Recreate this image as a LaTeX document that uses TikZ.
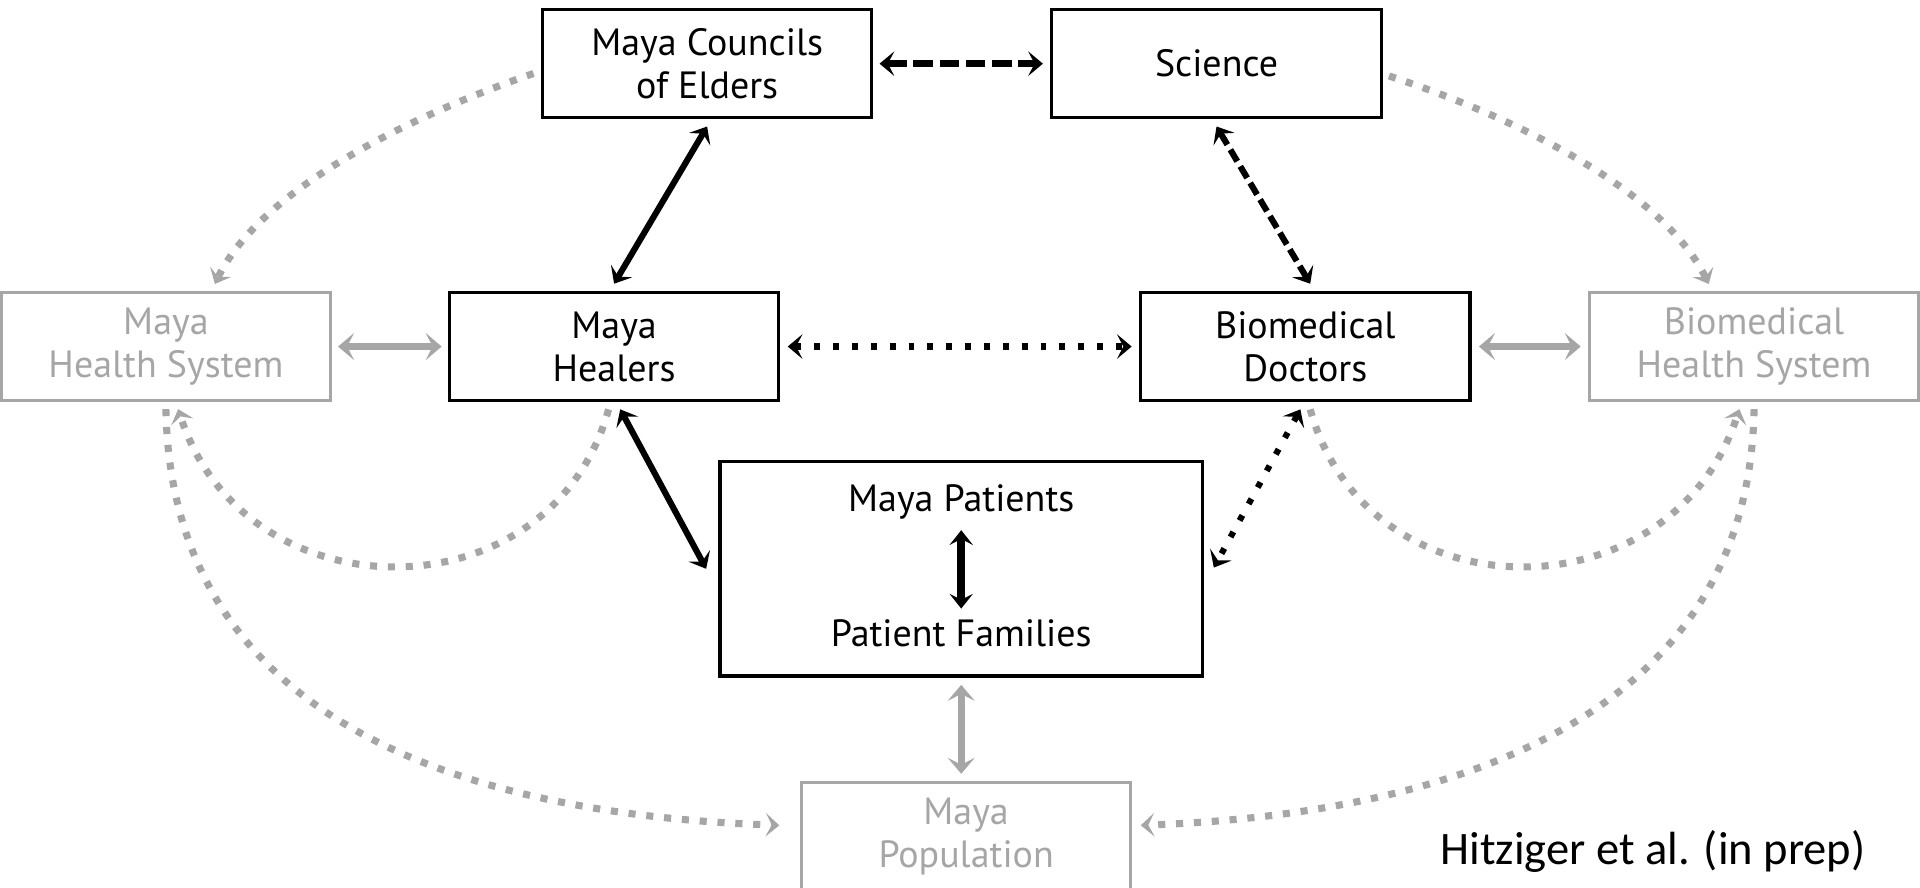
\documentclass[tikz,border=0pt]{standalone}
\usepackage{fontspec}
\setmainfont{PT Sans}
\newfontfamily\citefont{Carlito}
\usetikzlibrary{arrows.meta,calc}
\definecolor{lgray}{HTML}{A6A6A6}
\begin{document}
\begin{tikzpicture}[x=0.5pt,y=-0.5pt,
  >={Stealth[length=6pt,width=10pt,inset=2.6pt]},
  box/.style={draw=black,line width=1.3pt,minimum width=134.5pt,minimum height=44pt,inner sep=0pt,align=center,font=\fontsize{15.5}{17.5}\selectfont},
  gbox/.style={box,draw=lgray,text=lgray,line width=1.1pt},
  txt/.style={inner sep=0pt,font=\fontsize{15.5}{17.5}\selectfont},
  citestyle/.style={inner sep=0pt,font=\citefont\fontsize{19}{22}\selectfont},
  blkline/.style={line width=2.5pt},
  csdash/.style={line width=2.9pt,dash pattern=on 8pt off 2.7pt},
  sddash/.style={line width=2.5pt,dash pattern=on 5.5pt off 2.4pt},
  bdot/.style={line width=2.5pt,dash pattern=on 2.4pt off 5.3pt},
  innerarr/.style={line width=3.3pt,>={Stealth[length=6pt,width=9.5pt,inset=2.4pt]}},
  gline/.style={draw=lgray,line width=2.7pt,>={Stealth[length=6.5pt,width=11pt,inset=2.8pt]}},
  gdot/.style={draw=lgray,line width=2.9pt,dash pattern=on 2.9pt off 4.4pt,>={Stealth[length=5.5pt,width=9.5pt,inset=2.4pt]}}
]
\useasboundingbox (0,0) rectangle (1568,725);
\node[box] (cou) at (577.5,52) {Maya Councils\\of Elders};
\node[box] (sci) at (993.5,52) {Science};
\node[gbox] (mhs) at (135.5,283) {Maya\\Health System};
\node[box] (hea) at (501.5,283) {Maya\\Healers};
\node[box] (doc) at (1066,283) {Biomedical\\Doctors};
\node[gbox] (bhs) at (1432.5,283) {Biomedical\\Health System};
\node[box,minimum width=197pt,minimum height=87.5pt] (pat) at (785,464.5) {};
\node[txt] (pt1) at (785,410) {Maya Patients};
\node[txt] (pt2) at (785,517) {Patient Families};
\node[gbox] (pop) at (789,683) {Maya\\Population};
\node[citestyle] (cit) at (1350,695) {Hitziger et al. (in prep)};

\draw[csdash,<->] ($(cou.east)+(5,0)$) -- ($(sci.west)+(-6,0)$);
\draw[blkline,<->] ($(cou.south)+(0,6)$) -- ($(hea.north)+(0,-6)$);
\draw[sddash,<->] ($(sci.south)+(0,6)$) -- ($(doc.north)+(4,-6)$);
\draw[bdot,<->] ($(hea.east)+(6,0)$) -- ($(doc.west)+(-6,0)$);
\draw[blkline,<->] ($(hea.south)+(5,6)$) -- ($(pat.west)+(-10,0)$);
\draw[bdot,<->] ($(doc.south)+(-4,6)$) -- ($(pat.east)+(8,-1)$);
\draw[innerarr,<->] ($(pt1)+(0,23)$) -- ($(pt2)+(0,-20)$);
\draw[gline,<->] ($(pat.south)+(0,6)$) -- ($(pop.north)+(-4,-6)$);
\draw[gline,<->] ($(mhs.east)+(5,0)$) -- ($(hea.west)+(-5,0)$);
\draw[gline,<->] ($(doc.east)+(6,0)$) -- ($(bhs.west)+(-6,0)$);

\draw[gdot,->] ($(cou.west)+(-6,8)$) .. controls (320,100) and (210,160) .. ($(mhs.north)+(40,-6)$);
\draw[gdot,->] ($(sci.east)+(5,10)$) .. controls (1250,100) and (1360,160) .. ($(bhs.north)+(-37,-6)$);
\draw[gdot,->] ($(hea.south)+(-4.5,6)$) .. controls (450,505) and (200,505) .. ($(mhs.south)+(10,6)$);
\draw[gdot,->] ($(doc.south)+(4,6)$) .. controls (1117,505) and (1365,505) .. ($(bhs.south)+(-12,6)$);
\draw[gdot,->] ($(mhs.south)+(0,6)$) .. controls (140,590) and (380,665) .. ($(pop.west)+(-17,-9)$);
\draw[gdot,->] ($(bhs.south)+(0,6)$) .. controls (1428,590) and (1180,665) .. ($(pop.east)+(7,-9)$);
\end{tikzpicture}
\end{document}
